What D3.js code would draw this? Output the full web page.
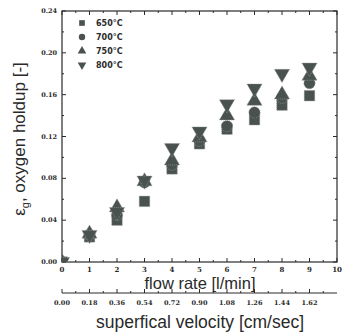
<!DOCTYPE html>
<html>
<head>
<meta charset="utf-8">
<script src="https://cdn.jsdelivr.net/npm/d3@7"></script>
<style>
  body { margin: 0; background: #fff; }
  svg { display: block; }
</style>
</head>
<body>
<div id="chart"></div>
<script>
// flow rate [l/min]
const flowRates = [0, 1, 2, 3, 4, 5, 6, 7, 8, 9];
const velocityLabels = ['0.00', '0.18', '0.36', '0.54', '0.72', '0.90', '1.08', '1.26', '1.44', '1.62'];
const seriesNames = ['650°C', '700°C', '750°C', '800°C'];
// oxygen holdup
const holdup650 = [0, 0.024, 0.040, 0.058, 0.089, 0.113, 0.127, 0.136, 0.150, 0.159];
const holdup700 = [0, 0.026, 0.045, 0.076, 0.093, 0.116, 0.130, 0.143, 0.157, 0.171];
const holdup750 = [0, 0.027, 0.052, 0.077, 0.097, 0.119, 0.140, 0.154, 0.160, 0.178];
const holdup800 = [0, 0.026, 0.048, 0.078, 0.109, 0.125, 0.151, 0.166, 0.180, 0.186];
const yTicks = [0, 0.04, 0.08, 0.12, 0.16, 0.20, 0.24];

const width = 342;
const height = 336;
const plotL = 62, plotR = 337, plotT = 11, plotB = 262;

const svg = d3.select('#chart')
  .append('svg')
  .attr('width', width)
  .attr('height', height);

const x = d3.scaleLinear().domain([0, 10]).range([plotL, plotR]);
const y = d3.scaleLinear().domain([0, 0.24]).range([plotB, plotT]);

const tickFont = '"DejaVu Serif", "Liberation Serif", serif';
const titleFont = '"Liberation Sans", Arial, sans-serif';
const ink = '#2a2a2a';

// clip for markers
svg.append('clipPath').attr('id', 'plot-clip')
  .append('rect')
  .attr('x', plotL).attr('y', plotT)
  .attr('width', plotR - plotL).attr('height', plotB - plotT);

// frame
svg.append('rect')
  .attr('x', plotL).attr('y', plotT)
  .attr('width', plotR - plotL).attr('height', plotB - plotT)
  .attr('fill', 'none')
  .attr('stroke', ink)
  .attr('stroke-width', 1.2);

const g = svg.append('g').attr('stroke', ink).attr('stroke-width', 1);

// ticks pointing inward on all four sides
const xMajor = d3.range(0, 11, 1);
const xMinor = d3.range(0.5, 10, 1);
const yMajor = yTicks;
const yMinor = d3.range(0.02, 0.24, 0.04);

xMajor.forEach(v => {
  g.append('line').attr('x1', x(v)).attr('x2', x(v)).attr('y1', plotB).attr('y2', plotB - 4);
  g.append('line').attr('x1', x(v)).attr('x2', x(v)).attr('y1', plotT).attr('y2', plotT + 4);
});
xMinor.forEach(v => {
  g.append('line').attr('x1', x(v)).attr('x2', x(v)).attr('y1', plotB).attr('y2', plotB - 2);
  g.append('line').attr('x1', x(v)).attr('x2', x(v)).attr('y1', plotT).attr('y2', plotT + 2);
});
yMajor.forEach(v => {
  g.append('line').attr('x1', plotL).attr('x2', plotL + 4).attr('y1', y(v)).attr('y2', y(v));
  g.append('line').attr('x1', plotR).attr('x2', plotR - 4).attr('y1', y(v)).attr('y2', y(v));
});
yMinor.forEach(v => {
  g.append('line').attr('x1', plotL).attr('x2', plotL + 2).attr('y1', y(v)).attr('y2', y(v));
  g.append('line').attr('x1', plotR).attr('x2', plotR - 2).attr('y1', y(v)).attr('y2', y(v));
});

// tick labels
svg.append('g').selectAll('text')
  .data(xMajor)
  .join('text')
  .attr('x', d => x(d))
  .attr('y', 272)
  .attr('text-anchor', 'middle')
  .attr('font-family', tickFont)
  .attr('font-weight', 'bold')
  .attr('font-size', 7)
  .attr('fill', ink)
  .text(d => d);

svg.append('g').selectAll('text')
  .data(yMajor)
  .join('text')
  .attr('x', plotL - 5)
  .attr('y', d => y(d) + 2)
  .attr('text-anchor', 'end')
  .attr('font-family', tickFont)
  .attr('font-weight', 'bold')
  .attr('font-size', 6.5)
  .attr('fill', ink)
  .text(d => d.toFixed(2));

// axis titles
svg.append('text')
  .attr('x', 200).attr('y', 289)
  .attr('text-anchor', 'middle')
  .attr('font-family', titleFont)
  .attr('font-size', 16.5)
  .attr('fill', ink)
  .text('flow rate [l/min]');

const yTitle = svg.append('text')
  .attr('transform', 'translate(25,139) rotate(-90)')
  .attr('text-anchor', 'middle')
  .attr('font-family', titleFont)
  .attr('font-size', 17)
  .attr('fill', ink);
yTitle.append('tspan').text('ε');
yTitle.append('tspan').attr('font-size', 11).attr('dy', 4).text('g');
yTitle.append('tspan').attr('dy', -4).text(', oxygen holdup [-]');

// secondary axis: superficial velocity
const axis2Y = 293;
const g2 = svg.append('g').attr('stroke', ink).attr('stroke-width', 1);
g2.append('line').attr('x1', plotL).attr('x2', plotR).attr('y1', axis2Y).attr('y2', axis2Y);
flowRates.forEach(v => {
  g2.append('line').attr('x1', x(v)).attr('x2', x(v)).attr('y1', axis2Y).attr('y2', axis2Y - 4);
  g2.append('line').attr('x1', x(v + 0.5)).attr('x2', x(v + 0.5)).attr('y1', axis2Y).attr('y2', axis2Y - 2);
});

svg.append('g').selectAll('text')
  .data(flowRates)
  .join('text')
  .attr('x', d => x(d))
  .attr('y', 305)
  .attr('text-anchor', 'middle')
  .attr('font-family', tickFont)
  .attr('font-weight', 'bold')
  .attr('font-size', 6.5)
  .attr('fill', ink)
  .text((d, i) => velocityLabels[i]);

svg.append('text')
  .attr('x', 200).attr('y', 328)
  .attr('text-anchor', 'middle')
  .attr('font-family', titleFont)
  .attr('font-size', 17.5)
  .attr('fill', ink)
  .text('superfical velocity [cm/sec]');

// markers
const markerFill = '#4a524f';
const markerStroke = '#8f9491';
const shapes = [
  { type: d3.symbolSquare, size: 110, rot: 0 },
  { type: d3.symbolCircle, size: 100, rot: 0 },
  { type: d3.symbolTriangle, size: 100, rot: 0 },
  { type: d3.symbolTriangle, size: 100, rot: 180 }
];
const series = [holdup650, holdup700, holdup750, holdup800];

const marks = svg.append('g').attr('clip-path', 'url(#plot-clip)');
series.forEach((vals, si) => {
  const s = shapes[si];
  marks.append('g').selectAll('path')
    .data(vals)
    .join('path')
    .attr('d', d3.symbol().type(s.type).size(s.size))
    .attr('transform', (d, i) => `translate(${x(flowRates[i])},${y(d)}) rotate(${s.rot})`)
    .attr('fill', markerFill)
    .attr('stroke', markerStroke)
    .attr('stroke-width', 0.8)
    .attr('stroke-dasharray', '1,1');
});

// legend
const legend = svg.append('g');
const legendRows = [23, 37, 51, 65];
seriesNames.forEach((name, i) => {
  const s = shapes[i];
  legend.append('path')
    .attr('d', d3.symbol().type(s.type).size(32))
    .attr('transform', `translate(82,${legendRows[i]}) rotate(${s.rot})`)
    .attr('fill', markerFill);
  legend.append('text')
    .attr('x', 96)
    .attr('y', legendRows[i] + 3)
    .attr('font-family', '"DejaVu Sans", Arial, sans-serif')
    .attr('font-weight', 'bold')
    .attr('font-size', 8)
    .attr('fill', ink)
    .text(name);
});
</script>
</body>
</html>
